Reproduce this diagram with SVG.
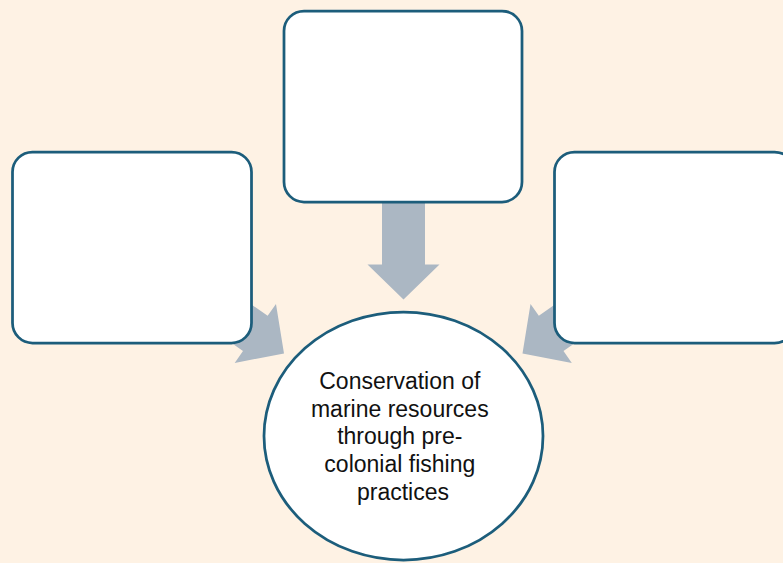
<svg xmlns="http://www.w3.org/2000/svg" width="783" height="563" viewBox="0 0 783 563">
  <style>
    .box { fill: #FFFFFF; stroke: #1C5D7B; stroke-width: 2.75; }
    .arrow { fill: #ABB7C3; }
    .label { font-family: "Liberation Sans", Arial, sans-serif; font-size: 23px; fill: #111111; text-anchor: middle; }
  </style>
  <defs>
    <!-- block arrow pointing along +x, tip at the origin -->
    <polygon id="blockArrow" points="-100,-21.5 -35,-21.5 -35,-36 0,0 -35,36 -35,21.5 -100,21.5"/>
  </defs>
  <rect width="783" height="563" fill="#FEF2E4"/>

  <g id="connectors">
    <use href="#blockArrow" class="arrow" transform="translate(403.5,299.5) rotate(90)"/>
    <use href="#blockArrow" class="arrow" transform="translate(284,353.5) rotate(35)"/>
    <use href="#blockArrow" class="arrow" transform="translate(522.5,353.5) rotate(145)"/>
  </g>

  <g id="box-top">
    <rect class="box" x="284" y="11" width="238" height="191" rx="20" ry="20"/>
  </g>
  <g id="box-left">
    <rect class="box" x="12.5" y="152" width="239" height="191" rx="20" ry="20"/>
  </g>
  <g id="box-right">
    <rect class="box" x="554.5" y="152" width="240" height="191" rx="20" ry="20"/>
  </g>

  <g id="center">
    <ellipse class="box" cx="403.5" cy="436" rx="139.5" ry="124"/>
    <text class="label">
      <tspan x="403" y="388.5">Conservation of</tspan>
      <tspan x="403" y="416.5">marine resources</tspan>
      <tspan x="403" y="444">through pre-</tspan>
      <tspan x="403" y="472">colonial fishing</tspan>
      <tspan x="403" y="499.5">practices</tspan>
    </text>
  </g>
</svg>
